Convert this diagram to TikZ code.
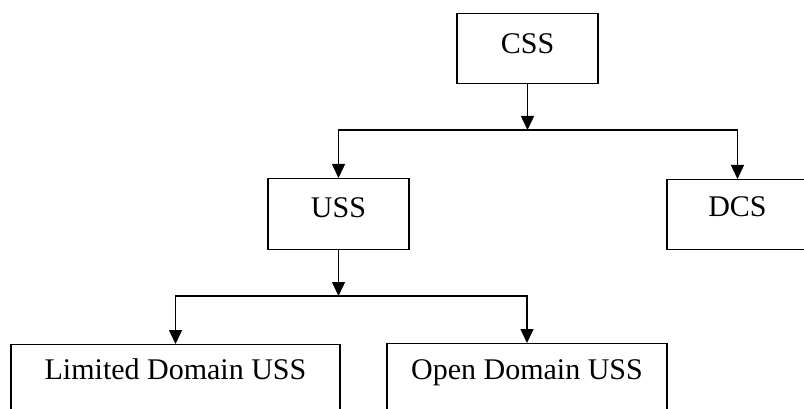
\documentclass[tikz,border=0pt]{standalone}
\usepackage{fontspec}
\setmainfont{Liberation Serif}
\usetikzlibrary{arrows.meta}
\begin{document}
\begin{tikzpicture}[x=1pt,y=-1pt,
  box/.style={draw, line width=1.2pt, inner sep=0pt, anchor=north,
    font=\fontsize{30}{36}\selectfont},
  arr/.style={line width=1.5pt, -{Triangle[width=13pt,length=14pt]}}]
\clip (0,0) rectangle (804,409);
\fill[white] (0,0) rectangle (804,409);
\node[box, minimum width=141pt, text height=40pt, text depth=30pt] (css) at (527.5,13) {CSS};
\node[box, minimum width=141pt, text height=39pt, text depth=32pt] (uss) at (338.5,178) {USS};
\node[box, minimum width=141pt, text height=37pt, text depth=33pt] (dcs) at (737.5,179) {DCS};
\node[box, minimum width=329pt, text height=35pt, text depth=60pt] (lim) at (175.5,344) {Limited Domain USS};
\node[box, minimum width=280pt, text height=36pt, text depth=60pt] (open) at (527,343) {Open Domain USS};
\coordinate (j1) at (527.5,130);
\coordinate (j2) at (338.5,296);
\draw[arr] (css.south) -- (j1);
\draw[arr] (j1) -| (uss.north);
\draw[arr] (j1) -| (dcs.north);
\draw[arr] (uss.south) -- (j2);
\draw[arr] (j2) -| (lim.north);
\draw[arr] (j2) -| (open.north);
\end{tikzpicture}
\end{document}
